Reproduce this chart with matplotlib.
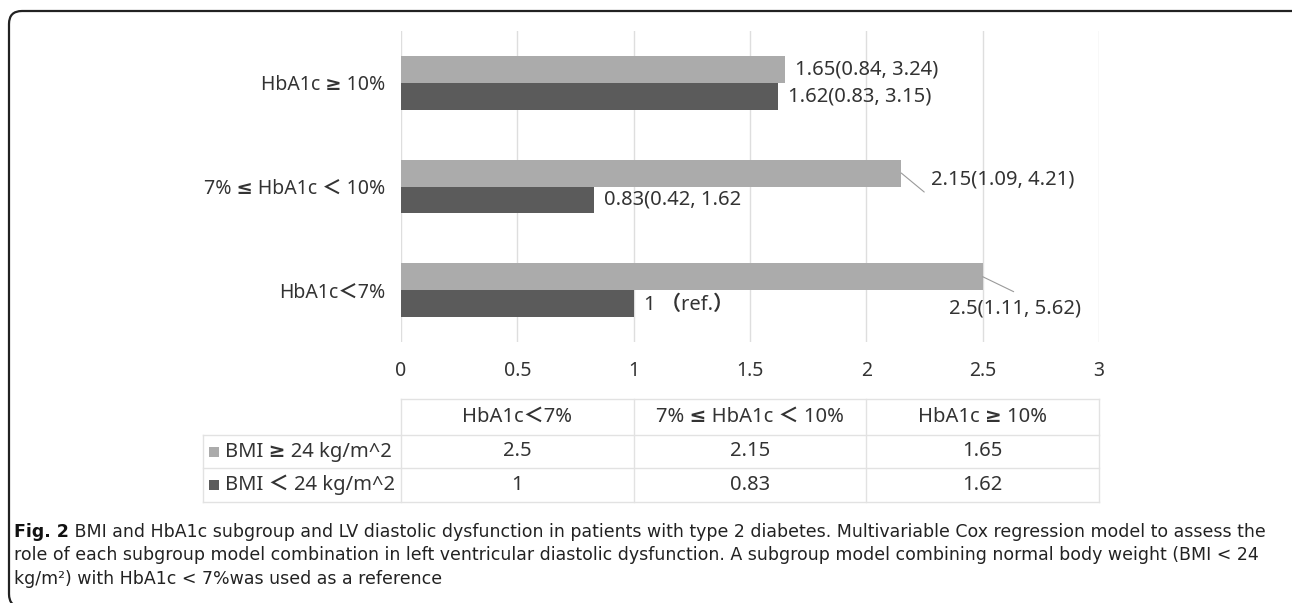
import matplotlib.pyplot as plt
import matplotlib.transforms as mtransforms
from matplotlib.patches import FancyBboxPatch, Rectangle
import numpy as np

# Data
categories = ['HbA1c＜7%', '7% ≤ HbA1c ＜ 10%', 'HbA1c ≥ 10%']
series_names = ['BMI ≥ 24 kg/m^2', 'BMI ＜ 24 kg/m^2']
bmi_high = [2.5, 2.15, 1.65]
bmi_low = [1, 0.83, 1.62]
labels_high = ['2.5(1.11, 5.62)', '2.15(1.09, 4.21)', '1.65(0.84, 3.24)']
labels_low = ['1 （ref.）', '0.83(0.42, 1.62', '1.62(0.83, 3.15)']
xticks = [0, 0.5, 1, 1.5, 2, 2.5, 3]

caption_bold = 'Fig. 2'
caption_lines = [
    ' BMI and HbA1c subgroup and LV diastolic dysfunction in patients with type 2 diabetes. Multivariable Cox regression model to assess the',
    'role of each subgroup model combination in left ventricular diastolic dysfunction. A subgroup model combining normal body weight (BMI < 24',
    'kg/m²) with HbA1c < 7%was used as a reference',
]

# styling
light = '#ababab'
dark = '#5b5b5b'
txt = '#333333'
gridc = '#dedede'
W, H = 1292, 603
chart_font = ['Noto Sans', 'DejaVu Sans', 'Noto Sans CJK SC']
fw = 'semibold'

plt.rcParams['font.family'] = chart_font

fig = plt.figure(figsize=(W / 100, H / 100), dpi=100)


def fy(py):
    return 1 - py / H


def fx(px):
    return px / W


# outer rounded frame (only top/left visible in the source)
frame = FancyBboxPatch((9, -4), 1300, H - 7, boxstyle='round,pad=0,rounding_size=13',
                       transform=mtransforms.IdentityTransform(), fill=False,
                       edgecolor='#222222', lw=1.6)
fig.patches.append(frame)

ax = fig.add_axes([fx(401), fy(342), fx(1099) - fx(401), fy(31) - fy(342)])
y = np.arange(len(categories))
bh = 0.26
ax.barh(y + bh / 2, bmi_high, height=bh, color=light, zorder=2)
ax.barh(y - bh / 2, bmi_low, height=bh, color=dark, zorder=2)
ax.set_xlim(0, 3)
ax.set_ylim(-0.5, 2.5)
ax.set_xticks(xticks)
ax.set_xticklabels([f'{t:g}' for t in xticks], fontsize=14, color=txt, fontweight=fw)
ax.set_yticks(y)
ax.set_yticklabels(categories, fontsize=14, color=txt, fontweight=fw)
ax.grid(axis='x', color=gridc, lw=1)
ax.set_axisbelow(True)
for s in ax.spines.values():
    s.set_visible(False)
ax.tick_params(axis='x', length=0, pad=14)
ax.tick_params(axis='y', length=0, pad=11)

# value labels (pixel offsets from bar ends)
lfs = 14.5
off_high = [(-34, -32), (30, -6), (10, 0)]
off_low = [(10, -1), (10, 0), (10, 0)]
leaders = {0: (31, -15), 1: (23, -19)}
for i in range(len(categories)):
    ax.annotate(labels_high[i], xy=(bmi_high[i], y[i] + bh / 2), xytext=off_high[i],
                textcoords='offset pixels', ha='left', va='center', fontsize=lfs,
                fontweight=fw, color=txt, annotation_clip=False)
    ax.annotate(labels_low[i], xy=(bmi_low[i], y[i] - bh / 2), xytext=off_low[i],
                textcoords='offset pixels', ha='left', va='center', fontsize=lfs,
                fontweight=fw, color=txt, annotation_clip=False)
    if i in leaders:
        ax.annotate('', xy=(bmi_high[i], y[i] + bh / 2), xytext=leaders[i],
                    textcoords='offset pixels',
                    arrowprops=dict(arrowstyle='-', color='#9a9a9a', lw=0.8,
                                    shrinkA=0, shrinkB=0))

# data table under the chart
trans = mtransforms.blended_transform_factory(ax.transData, fig.transFigure)
row_left = -0.85
t_top, r1, r2, t_bot = fy(399), fy(435), fy(468), fy(502)
lk = dict(color='#e2e2e2', lw=1, transform=trans, clip_on=False)
ax.plot([0, 3], [t_top, t_top], **lk)
for yy in (r1, r2, t_bot):
    ax.plot([row_left, 3], [yy, yy], **lk)
for xx in range(4):
    ax.plot([xx, xx], [t_top, t_bot], **lk)
ax.plot([row_left, row_left], [r1, t_bot], **lk)

tfs = 14.5
for j, cat in enumerate(categories):
    ax.text(j + 0.5, (t_top + r1) / 2, cat, transform=trans, ha='center', va='center',
            fontsize=tfs, fontweight=fw, color=txt)
    ax.text(j + 0.5, (r1 + r2) / 2, f'{bmi_high[j]:g}', transform=trans, ha='center',
            va='center', fontsize=tfs, fontweight=fw, color=txt)
    ax.text(j + 0.5, (r2 + t_bot) / 2, f'{bmi_low[j]:g}', transform=trans, ha='center',
            va='center', fontsize=tfs, fontweight=fw, color=txt)

sq = 10 / H
for (yc, col, name) in [((r1 + r2) / 2, light, series_names[0]),
                        ((r2 + t_bot) / 2, dark, series_names[1])]:
    ax.add_patch(Rectangle((-0.824, yc - sq / 2), 0.043, sq, transform=trans,
                           facecolor=col, edgecolor='none', clip_on=False))
    ax.text(-0.757, yc, name, transform=trans, ha='left', va='center', fontsize=tfs,
            fontweight=fw, color=txt)

# caption
cap_font = ['DejaVu Sans']
cap_y = [fy(532), fy(555), fy(579)]
fb = fig.text(fx(14), cap_y[0], caption_bold, fontsize=12.5, fontweight='bold',
              family=cap_font, va='center', ha='left', color='#111111')
fig.canvas.draw()
bb = fb.get_window_extent()
fig.text(bb.x1 / W, cap_y[0], caption_lines[0], fontsize=12.5, family=cap_font,
         va='center', ha='left', color='#222222')
for k in (1, 2):
    fig.text(fx(14), cap_y[k], caption_lines[k], fontsize=12.5, family=cap_font,
             va='center', ha='left', color='#222222')

fig.savefig('out.png', dpi=100)
